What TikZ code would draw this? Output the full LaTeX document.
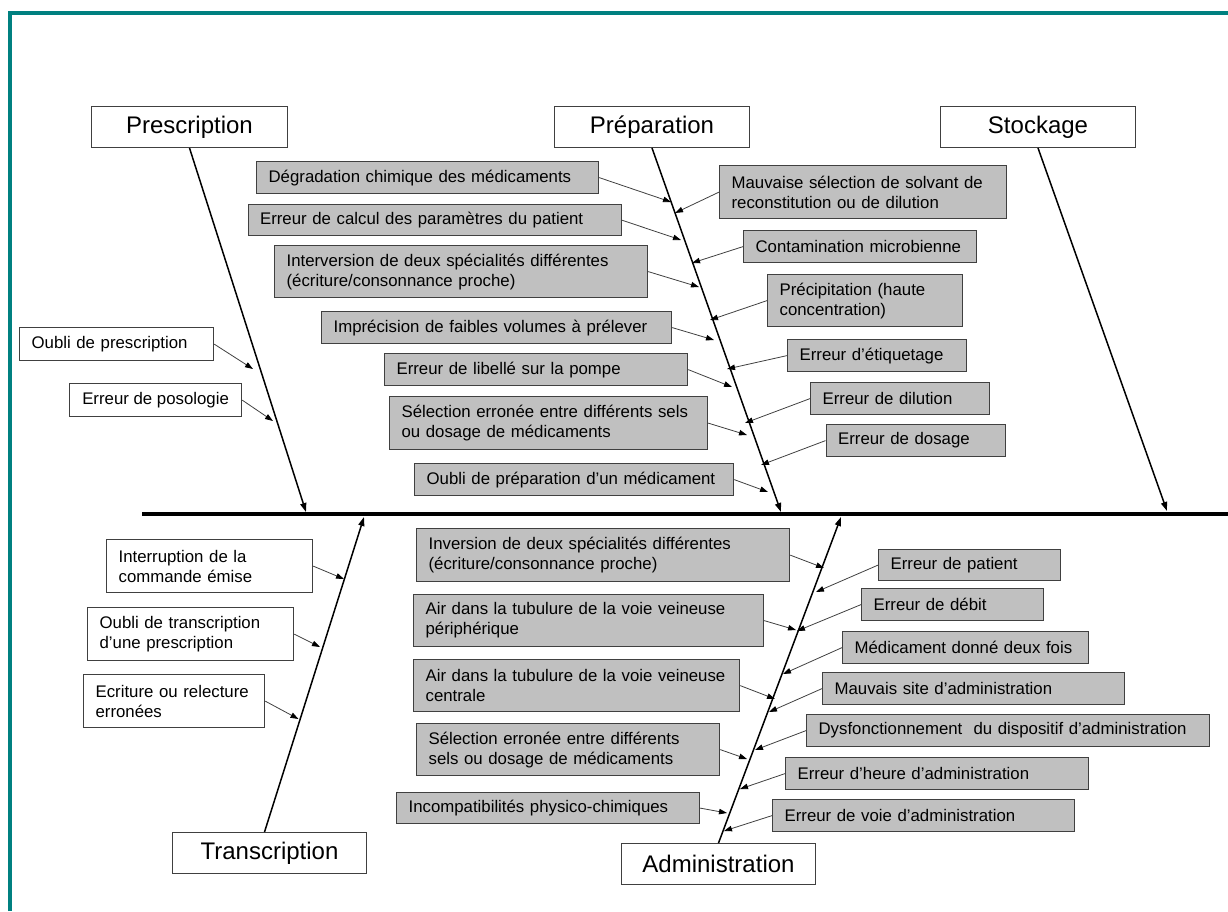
\documentclass[tikz,border=0pt]{standalone}
\usepackage{fontspec}
\setmainfont{Liberation Sans}
\usetikzlibrary{arrows.meta}
\definecolor{frameteal}{HTML}{008080}
\definecolor{boxgray}{HTML}{C0C0C0}
\definecolor{edgegray}{HTML}{404040}
\tikzstyle{cat} = [rectangle, draw=edgegray, fill=white, line width=1pt, anchor=north west, inner sep=0pt, font=\fontsize{24}{28}\selectfont]
\tikzstyle{cause} = [rectangle, draw=edgegray, fill=boxgray, line width=1.2pt, anchor=north west, align=left, inner xsep=12pt, inner ysep=0pt, font=\fontsize{16.8}{20}\selectfont]
\tikzstyle{note} = [cause, fill=white]
\tikzstyle{bone} = [-{Triangle[length=9pt,width=6pt]}, line width=1.5pt]
\tikzstyle{twig} = [-{Triangle[length=8pt,width=5.5pt,color=black]}, draw=edgegray, line width=0.8pt]

\begin{document}
\begin{tikzpicture}[x=1pt,y=-1pt]
  \useasboundingbox (0,0) rectangle (1228,911);
  \draw[frameteal, line width=4pt] (10,911) -- (10,13) -- (1228,13);

  % categories
  \node[cat, minimum width=196pt, minimum height=41pt] (Presc) at (91,106) {Prescription};
  \node[cat, minimum width=195pt, minimum height=41pt] (Prep) at (554,106) {Préparation};
  \node[cat, minimum width=195pt, minimum height=41pt] (Stock) at (940,106) {Stockage};
  \node[cat, minimum width=194pt, minimum height=41pt] (Trans) at (172,832) {Transcription};
  \node[cat, minimum width=194pt, minimum height=41pt] (Admin) at (621,843) {Administration};

  % spine and bones
  \coordinate (tail) at (142,514);
  \coordinate (head) at (1228,514);
  \coordinate (Presc_E) at (306,512);
  \coordinate (Prep_E) at (781,512);
  \coordinate (Stock_E) at (1167,511);
  \coordinate (Trans_E) at (364,517);
  \coordinate (Admin_E) at (841,517);
  \draw[line width=4pt] (tail) -- (head);
  \draw[bone] (Presc.south) -- (Presc_E);
  \draw[bone] (Prep.south) -- (Prep_E);
  \draw[bone] (Stock.south) -- (Stock_E);
  \draw[bone] ([xshift=-5pt]Trans.north) -- (Trans_E);
  \draw[bone] (Admin.north) -- (Admin_E);

  % prescription
  \node[note, text width=170pt, minimum height=33pt] (P_1) at (19,327) {Oubli de prescription};
  \node[note, minimum width=172pt, minimum height=33pt, inner xsep=0pt] (P_2) at (69,383) {Erreur de posologie};
  \coordinate (p1) at (253,369);
  \coordinate (p2) at (273,421);
  \draw[twig] (P_1.east) -- (p1);
  \draw[twig] (P_2.east) -- (p2);

  % transcription
  \node[note, text width=182pt, minimum height=53pt] (T_1) at (106,539) {Interruption de la\\commande émise};
  \node[note, text width=182pt, minimum height=53pt] (T_2) at (87,607) {Oubli de transcription\\d’une prescription};
  \node[note, text width=157pt, minimum height=53pt] (T_3) at (83,674) {Ecriture ou relecture\\erronées};
  \coordinate (t1) at (344,579);
  \coordinate (t2) at (320,647);
  \coordinate (t3) at (298.5,719);
  \draw[twig] (T_1.east) -- (t1);
  \draw[twig] (T_2.east) -- (t2);
  \draw[twig] (T_3.east) -- (t3);

  % preparation, left
  \node[cause, text width=318pt, minimum height=32pt] (L_1) at (256,161) {Dégradation chimique des médicaments};
  \node[cause, text width=349pt, minimum height=31pt] (L_2) at (247.5,204) {Erreur de calcul des paramètres du patient};
  \node[cause, text width=349pt, minimum height=52pt] (L_3) at (274,245) {Interversion de deux spécialités différentes\\(écriture/consonnance proche)};
  \node[cause, text width=326pt, minimum height=32pt] (L_4) at (321,311) {Imprécision de faibles volumes à prélever};
  \node[cause, text width=279pt, minimum height=32pt] (L_5) at (384,353) {Erreur de libellé sur la pompe};
  \node[cause, text width=294pt, minimum height=53pt] (L_6) at (389,396) {Sélection erronée entre différents sels\\ou dosage de médicaments};
  \node[cause, text width=295pt, minimum height=32pt] (L_7) at (414,463) {Oubli de préparation d’un médicament};
  \coordinate (l1) at (671,202);
  \coordinate (l2) at (681,240);
  \coordinate (l3) at (699,287);
  \coordinate (l4) at (714,340);
  \coordinate (l5) at (732,387);
  \coordinate (l6) at (747,435);
  \coordinate (l7) at (768,492);
  \draw[twig] (L_1.east) -- (l1);
  \draw[twig] (L_2.east) -- (l2);
  \draw[twig] (L_3.east) -- (l3);
  \draw[twig] (L_4.east) -- (l4);
  \draw[twig] (L_5.east) -- (l5);
  \draw[twig] (L_6.east) -- (l6);
  \draw[twig] (L_7.east) -- (l7);

  % preparation, right
  \node[cause, text width=263pt, minimum height=53pt] (R_1) at (719,165) {Mauvaise sélection de solvant de\\reconstitution ou de dilution};
  \node[cause, text width=209pt, minimum height=32pt] (R_2) at (743,230) {Contamination microbienne};
  \node[cause, text width=171pt, minimum height=52pt] (R_3) at (767,274) {Précipitation (haute\\concentration)};
  \node[cause, text width=155pt, minimum height=32pt] (R_4) at (787,339) {Erreur d’étiquetage};
  \node[cause, text width=155pt, minimum height=32pt] (R_5) at (810,382) {Erreur de dilution};
  \node[cause, text width=155pt, minimum height=32pt] (R_6) at (825.5,424) {Erreur de dosage};
  \coordinate (r1) at (675,213);
  \coordinate (r2) at (692,263);
  \coordinate (r3) at (710,320);
  \coordinate (r4) at (727,369);
  \coordinate (r5) at (745,423);
  \coordinate (r6) at (761,465);
  \draw[twig] (R_1.west) -- (r1);
  \draw[twig] (R_2.west) -- (r2);
  \draw[twig] (R_3.west) -- (r3);
  \draw[twig] (R_4.west) -- (r4);
  \draw[twig] (R_5.west) -- (r5);
  \draw[twig] (R_6.west) -- (r6);

  % administration, left
  \node[cause, text width=349pt, minimum height=53pt] (A_1) at (416,528) {Inversion de deux spécialités différentes\\(écriture/consonnance proche)};
  \node[cause, text width=326pt, minimum height=52pt] (A_2) at (413,594) {Air dans la tubulure de la voie veineuse\\périphérique};
  \node[cause, text width=302pt, minimum height=52pt] (A_3) at (413,659) {Air dans la tubulure de la voie veineuse\\centrale};
  \node[cause, text width=279pt, minimum height=52pt] (A_4) at (416,723) {Sélection erronée entre différents\\sels ou dosage de médicaments};
  \node[cause, text width=279pt, minimum height=31pt] (A_5) at (396,792) {Incompatibilités physico-chimiques};
  \coordinate (a1) at (824,568);
  \coordinate (a2) at (796,630);
  \coordinate (a3) at (775,699);
  \coordinate (a4) at (747,759);
  \coordinate (a5) at (727,813);
  \draw[twig] (A_1.east) -- (a1);
  \draw[twig] (A_2.east) -- (a2);
  \draw[twig] (A_3.east) -- (a3);
  \draw[twig] (A_4.east) -- (a4);
  \draw[twig] (A_5.east) -- (a5);

  % administration, right
  \node[cause, text width=158pt, minimum height=31pt] (B_1) at (878,549) {Erreur de patient};
  \node[cause, text width=158pt, minimum height=32pt] (B_2) at (861,588) {Erreur de débit};
  \node[cause, text width=222pt, minimum height=32pt] (B_3) at (842,631) {Médicament donné deux fois};
  \node[cause, text width=278pt, minimum height=32pt] (B_4) at (822,672) {Mauvais site d’administration};
  \node[cause, text width=379pt, minimum height=32pt] (B_5) at (806,714) {Dysfonctionnement~ du dispositif d’administration};
  \node[cause, text width=279pt, minimum height=32pt] (B_6) at (785,757) {Erreur d’heure d’administration};
  \node[cause, text width=278pt, minimum height=32pt] (B_7) at (772,799) {Erreur de voie d’administration};
  \coordinate (b1) at (816,592);
  \coordinate (b2) at (797,631);
  \coordinate (b3) at (783,674);
  \coordinate (b4) at (769,712);
  \coordinate (b5) at (755,750);
  \coordinate (b6) at (740,789);
  \coordinate (b7) at (724,831);
  \draw[twig] (B_1.west) -- (b1);
  \draw[twig] (B_2.west) -- (b2);
  \draw[twig] (B_3.west) -- (b3);
  \draw[twig] (B_4.west) -- (b4);
  \draw[twig] (B_5.west) -- (b5);
  \draw[twig] (B_6.west) -- (b6);
  \draw[twig] (B_7.west) -- (b7);
\end{tikzpicture}
\end{document}
